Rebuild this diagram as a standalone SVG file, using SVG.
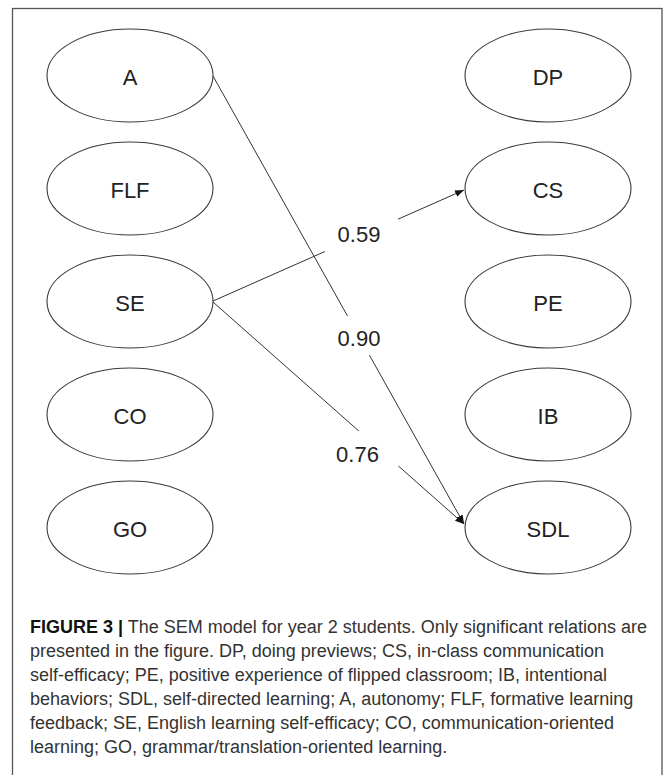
<svg xmlns="http://www.w3.org/2000/svg" width="672" height="775" viewBox="0 0 672 775">
<style>
.node ellipse{fill:#fff;stroke:#3a3a3a;stroke-width:1.1}
.node text{font-family:"Liberation Sans",Arial,sans-serif;font-size:22px;fill:#222;text-anchor:middle}
.edge{fill:none;stroke:#333;stroke-width:1}
.lbl{font-family:"Liberation Sans",Arial,sans-serif;font-size:22px;fill:#222;text-anchor:middle}
.cap{font-family:"Liberation Sans",Arial,sans-serif;font-size:18px;fill:#333}
</style>
<defs>
<marker id="arr" markerWidth="10" markerHeight="8" refX="9" refY="3.5" orient="auto" markerUnits="userSpaceOnUse">
<path d="M0,0 L9,3.5 L0,7 z" fill="#111"/>
</marker>
</defs>
<rect x="12.5" y="8.5" width="649.5" height="780" fill="none" stroke="#555" stroke-width="1.3"/>
<g id="connectors">
<path class="edge" d="M213,76 L347.5,316 M369.3,355 L464,524" marker-end="url(#arr)"/>
<path class="edge" d="M213,301 L325,251.5 M398,219.2 L464,190" marker-end="url(#arr)"/>
<path class="edge" d="M213,302 L358.8,431 M398.4,466 L464,524" marker-end="url(#arr)"/>
<text class="lbl" x="359" y="241.5">0.59</text>
<text class="lbl" x="359" y="345.5">0.90</text>
<text class="lbl" x="357.5" y="461.5">0.76</text>
</g>
<g id="node-A" class="node"><ellipse cx="130" cy="75.5" rx="83" ry="46.5"/><text x="130" y="85">A</text></g>
<g id="node-FLF" class="node"><ellipse cx="130" cy="188.5" rx="83" ry="46.5"/><text x="130" y="198">FLF</text></g>
<g id="node-SE" class="node"><ellipse cx="130" cy="301.5" rx="83" ry="46.5"/><text x="130" y="311">SE</text></g>
<g id="node-CO" class="node"><ellipse cx="130" cy="414.5" rx="83" ry="46.5"/><text x="130" y="424">CO</text></g>
<g id="node-GO" class="node"><ellipse cx="130" cy="527.5" rx="83" ry="46.5"/><text x="130" y="537">GO</text></g>
<g id="node-DP" class="node"><ellipse cx="548" cy="75.5" rx="83" ry="46.5"/><text x="548" y="85">DP</text></g>
<g id="node-CS" class="node"><ellipse cx="548" cy="188.5" rx="83" ry="46.5"/><text x="548" y="198">CS</text></g>
<g id="node-PE" class="node"><ellipse cx="548" cy="301.5" rx="83" ry="46.5"/><text x="548" y="311">PE</text></g>
<g id="node-IB" class="node"><ellipse cx="548" cy="414.5" rx="83" ry="46.5"/><text x="548" y="424">IB</text></g>
<g id="node-SDL" class="node"><ellipse cx="548" cy="527.5" rx="83" ry="46.5"/><text x="548" y="537">SDL</text></g>
<g id="caption">
<text class="cap" x="30" y="633"><tspan font-weight="bold" fill="#111">FIGURE 3 |</tspan> The SEM model for year 2 students. Only significant relations are</text>
<text class="cap" x="30" y="657">presented in the figure. DP, doing previews; CS, in-class communication</text>
<text class="cap" x="30" y="681">self-efficacy; PE, positive experience of flipped classroom; IB, intentional</text>
<text class="cap" x="30" y="705">behaviors; SDL, self-directed learning; A, autonomy; FLF, formative learning</text>
<text class="cap" x="30" y="729">feedback; SE, English learning self-efficacy; CO, communication-oriented</text>
<text class="cap" x="30" y="753">learning; GO, grammar/translation-oriented learning.</text>
</g>
</svg>
